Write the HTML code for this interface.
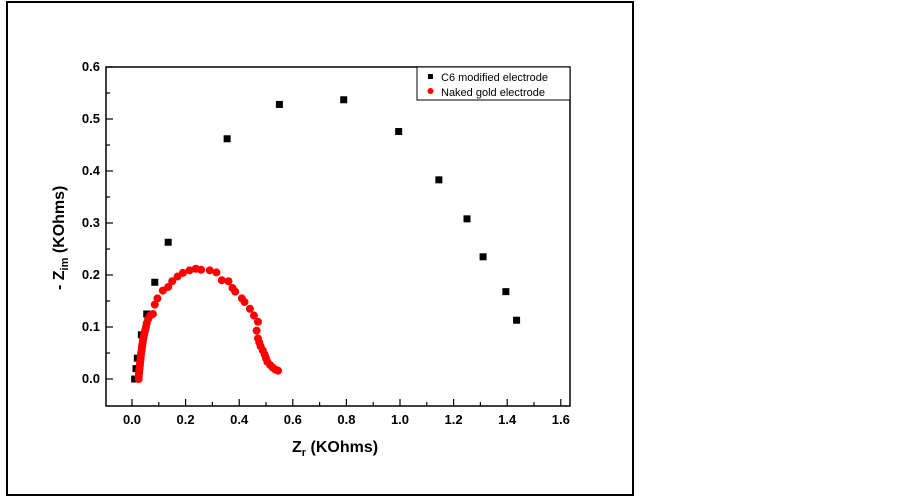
<!DOCTYPE html>
<html><head><style>
body{margin:0;background:#fff;}
svg{display:block;font-family:"Liberation Sans",Arial,sans-serif;font-weight:bold;}
</style></head><body>
<svg width="902" height="498" viewBox="0 0 902 498">
<rect x="7" y="2" width="626" height="493" fill="none" stroke="#000" stroke-width="2"/>
<rect x="106" y="67" width="464" height="339" fill="none" stroke="#000" stroke-width="1.5"/>
<g id="ticks" stroke="#000" stroke-width="1.2"></g>
<g font-size="13" text-anchor="end" fill="#000">
<text x="100" y="383">0.0</text><text x="100" y="331">0.1</text><text x="100" y="279">0.2</text>
<text x="100" y="227">0.3</text><text x="100" y="175">0.4</text><text x="100" y="123">0.5</text><text x="100" y="71">0.6</text>
</g>
<g font-size="13" text-anchor="middle" fill="#000">
<text x="132" y="424">0.0</text><text x="185.6" y="424">0.2</text><text x="239.2" y="424">0.4</text><text x="292.8" y="424">0.6</text>
<text x="346.4" y="424">0.8</text><text x="400" y="424">1.0</text><text x="453.6" y="424">1.2</text><text x="507.2" y="424">1.4</text><text x="560.8" y="424">1.6</text>
</g>
<text x="292" y="452" font-size="16" fill="#000">Z<tspan font-size="11" dy="4">r</tspan><tspan dy="-4"> (KOhms)</tspan></text>
<text transform="translate(64,290) rotate(-90)" font-size="16" fill="#000">- Z<tspan font-size="11" dy="4">im</tspan><tspan dy="-4"> (KOhms)</tspan></text>
<rect x="417" y="67" width="153" height="33" fill="#fff" stroke="#000" stroke-width="1"/>
<rect x="428" y="74" width="5" height="5" fill="#000"/>
<circle cx="430.5" cy="91" r="3" fill="#f00"/>
<text x="441" y="81" font-size="11" font-weight="normal" fill="#000">C6 modified electrode</text>
<text x="441" y="96" font-size="11" font-weight="normal" fill="#000">Naked gold electrode</text>
<g id="pts"></g>
</svg>
<script>
var X=v=>132+v*268,Y=v=>379-v*520,ns="http://www.w3.org/2000/svg";
var t=document.getElementById("ticks"),s="";
for(var i=0;i<=16;i++){var x=X(i*0.1);s+=`<line x1="${x}" y1="406" x2="${x}" y2="${i%2?402:399}"/>`;}
for(var i=0;i<=12;i++){var y=Y(i*0.05);s+=`<line x1="106" y1="${y}" x2="${i%2?110:113}" y2="${y}"/>`;}
t.innerHTML=s;
var red=[[0.025,0],[0.025,0.005],[0.026,0.01],[0.027,0.015],[0.028,0.02],[0.029,0.025],[0.03,0.03],[0.031,0.035],[0.032,0.04],[0.033,0.045],[0.034,0.05],[0.036,0.055],[0.037,0.06],[0.038,0.065],[0.04,0.07],[0.041,0.075],[0.043,0.08],[0.045,0.085],[0.047,0.09],[0.05,0.095],[0.052,0.1],[0.055,0.107],[0.06,0.115],[0.068,0.122],[0.078,0.125],[0.085,0.143],[0.095,0.155],[0.115,0.17],[0.135,0.177],[0.15,0.188],[0.17,0.197],[0.19,0.204],[0.215,0.209],[0.238,0.212],[0.258,0.21],[0.29,0.209],[0.315,0.205],[0.335,0.19],[0.36,0.188],[0.375,0.175],[0.385,0.168],[0.41,0.155],[0.42,0.148],[0.44,0.135],[0.455,0.122],[0.47,0.11],[0.465,0.093],[0.47,0.078],[0.475,0.07],[0.48,0.063],[0.488,0.055],[0.495,0.047],[0.5,0.04],[0.505,0.033],[0.515,0.027],[0.525,0.022],[0.535,0.018],[0.545,0.016]];
var blk=[[0.01,0],[0.015,0.02],[0.02,0.04],[0.035,0.085],[0.055,0.125],[0.085,0.186],[0.135,0.263],[0.355,0.462],[0.55,0.528],[0.79,0.537],[0.995,0.476],[1.145,0.383],[1.25,0.308],[1.31,0.235],[1.395,0.168],[1.435,0.113]];
var p="";
blk.forEach(d=>p+=`<rect x="${X(d[0])-3.5}" y="${Y(d[1])-3.5}" width="7" height="7" fill="#000"/>`);
red.forEach(d=>p+=`<circle cx="${X(d[0])}" cy="${Y(d[1])}" r="4" fill="#f00"/>`);
document.getElementById("pts").innerHTML=p;
</script>
</body></html>
